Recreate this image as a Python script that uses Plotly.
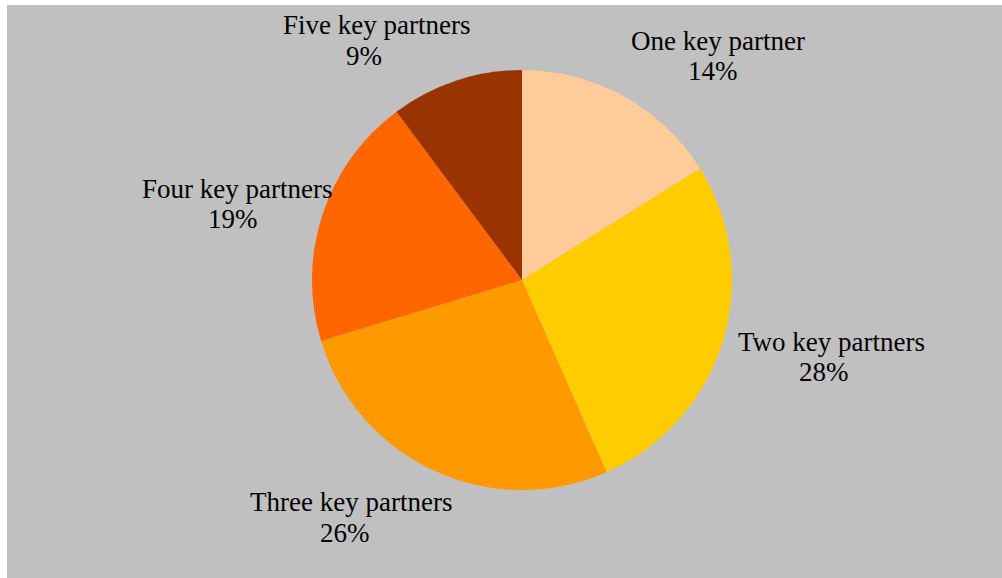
import plotly.graph_objects as go

categories = ["One key partner", "Two key partners", "Three key partners",
              "Four key partners", "Five key partners"]
# slice sizes as drawn (angular share)
slice_sizes = [16.1, 27.3, 26.9, 19.5, 10.2]
# percentages printed on the labels
pct_labels = ["14%", "28%", "26%", "19%", "9%"]
colors = ["#FFCC99", "#FFCC00", "#FF9900", "#FF6600", "#993300"]

W, H = 1002, 578
ml, mt = 7, 5
pw, ph = W - ml, H - mt
cx, cy, r = 522, 280, 210

serif = "'Liberation Serif', 'Times New Roman', 'DejaVu Serif', serif"
FS = 27

# label placement (pixel centres of name line and percent line), layout only
name_pos = [(718, 41), (831, 342), (351, 502), (237, 189), (376, 25)]
pct_pos = [(713, 71), (824, 372), (345, 533), (233, 219), (364, 56)]


def px2paper(x, y):
    return (x - ml) / pw, (H - y) / ph


fig = go.Figure(go.Pie(
    labels=categories,
    values=slice_sizes,
    text=pct_labels,
    textinfo="none",
    sort=False,
    direction="clockwise",
    rotation=0,
    marker=dict(colors=colors, line=dict(width=0)),
    showlegend=False,
    hoverinfo="label+text",
    domain=dict(x=[(cx - r - ml) / pw, (cx + r - ml) / pw],
                y=[(H - (cy + r)) / ph, (H - (cy - r)) / ph]),
))

annotations = []
for name, pct, npos, ppos in zip(categories, pct_labels, name_pos, pct_pos):
    for txt, pos in ((name, npos), (pct, ppos)):
        xp, yp = px2paper(*pos)
        annotations.append(dict(
            text=txt, x=xp, y=yp, xref="paper", yref="paper",
            xanchor="center", yanchor="middle", showarrow=False,
            font=dict(family=serif, size=FS, color="#000000"),
        ))

fig.update_layout(
    width=W, height=H,
    margin=dict(l=ml, r=0, t=mt, b=0, pad=0),
    paper_bgcolor="#FFFFFF",
    shapes=[dict(type="rect", xref="paper", yref="paper", x0=0, x1=1, y0=0, y1=1,
                 fillcolor="#C0C0C0", line=dict(width=0), layer="below")],
    font=dict(family=serif, size=FS, color="#000000"),
    annotations=annotations,
)

fig.write_html("out.html")
